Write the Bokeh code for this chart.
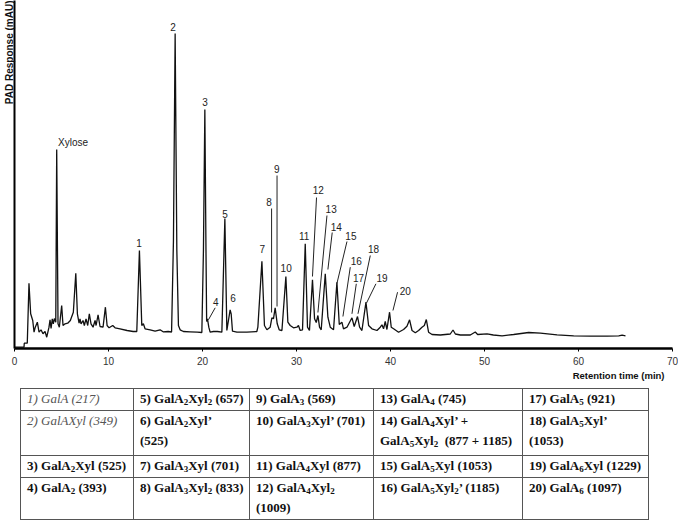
from bokeh.plotting import figure
from bokeh.models import ColumnDataSource, FixedTicker, Title, Div, Range1d
from bokeh.layouts import column
from bokeh.embed import file_html
from bokeh.resources import INLINE
from bokeh.core.properties import value

# ---------------- chromatogram trace ----------------
time_min = [0.00, 1.01, 1.04, 1.36, 1.54, 1.72, 1.94, 2.08, 2.21, 2.43,
            2.61, 2.82, 3.03, 3.25, 3.43, 3.67, 3.78, 3.89, 4.02, 4.13,
            4.24, 4.39, 4.49, 4.63, 4.77, 5.02, 5.16, 5.38, 5.66, 5.94,
            6.26, 6.52, 6.69, 6.87, 6.97, 7.08, 7.29, 7.43, 7.61, 7.79,
            7.96, 8.14, 8.36, 8.57, 8.68, 8.89, 9.10, 9.42, 9.67, 9.85,
            10.06, 10.45, 10.70, 11.23, 11.98, 12.62, 13.01, 13.29, 13.54, 13.71,
            13.89, 14.43, 14.96, 15.49, 15.81, 16.34, 16.71, 16.91, 17.09, 17.27,
            17.44, 17.62, 17.97, 18.68, 19.43, 19.93, 20.10, 20.25, 20.37, 20.44,
            20.53, 20.67, 20.81, 21.16, 21.59, 22.06, 22.38, 22.59, 22.94, 23.05,
            23.19, 23.66, 24.72, 25.78, 25.89, 26.32, 26.59, 26.85, 27.20, 27.38,
            27.55, 27.73, 27.95, 28.16, 28.45, 28.87, 29.08, 29.33, 29.68, 30.04,
            30.21, 30.39, 30.64, 30.93, 31.17, 31.38, 31.70, 31.92, 32.10, 32.28,
            32.45, 32.63, 33.06, 33.34, 33.59, 33.94, 34.30, 34.55, 34.83, 35.00,
            35.37, 35.90, 36.14, 36.49, 36.71, 36.96, 37.39, 37.67, 38.03, 38.56,
            38.91, 39.09, 39.26, 39.44, 39.62, 39.90, 40.08, 40.33, 40.86, 41.39,
            41.75, 42.03, 42.29, 42.64, 42.99, 43.35, 43.60, 43.81, 44.05, 44.42,
            45.30, 46.36, 46.65, 46.90, 47.43, 48.49, 49.02, 49.27, 50.27, 50.94,
            51.87, 53.10, 54.70, 55.95, 57.72, 59.49, 61.27, 63.05, 64.28, 64.64,
            65.00]
response = [1.3, 1.3, 5.3, 5.3, 65.3, 34.7, 28, 16.3, 21.3, 26.3,
            16.3, 18.7, 14.7, 17, 11.3, 21.3, 28.7, 20, 29.7, 24.7,
            30, 26.3, 199, 24.7, 21.3, 43, 23, 24.7, 25.3, 28,
            36.3, 75.3, 34.7, 25.3, 29.7, 24.7, 28, 23, 29.7, 23,
            34.7, 24.7, 21.3, 28, 23, 33.7, 22, 21.3, 41.3, 23,
            20.7, 23, 20.7, 19.7, 18, 17, 17, 98, 23, 24.7,
            19.7, 18.7, 17.3, 18.7, 16.7, 17, 16.5, 108, 315, 98,
            23, 18.7, 17, 16.7, 16.3, 16, 98, 239, 98, 27,
            29.7, 21.3, 16.3, 17, 17, 16.3, 130, 18, 38.7, 34.7,
            17.3, 16.3, 16.3, 17, 21.3, 87.3, 23, 18.7, 21.3, 30.7,
            29.7, 40.7, 24.7, 18.7, 18, 72, 26.3, 23, 20.7, 21.3,
            23, 18, 18.7, 104.7, 21.3, 18, 68.7, 29.7, 26, 33,
            21.3, 18.7, 74.7, 31.3, 21.3, 18.7, 66.3, 24, 26.3, 19.7,
            21.3, 30.7, 22, 32, 21.3, 18, 46.3, 23, 19.7, 18,
            21.3, 23.7, 19.7, 27, 19, 36.3, 21.3, 19.7, 16.3, 19,
            22.3, 28.7, 18, 15.7, 18, 21.3, 23, 29, 16.3, 14,
            13.5, 14.5, 18.5, 14.5, 13.5, 13.5, 16.5, 14, 14.7, 13.5,
            12.7, 14, 16, 15.3, 13.7, 12.7, 12.3, 12.3, 12.7, 13.3,
            12.7]

# ---------------- peak labels ----------------
label_text = ["1", "2", "3", "4", "5", "6", "7", "8", "9", "10",
              "11", "12", "13", "14", "15", "16", "17", "18", "19", "20"]
label_t = [13.25, 16.87, 20.28, 21.42, 22.41, 23.26, 26.35, 27.09, 27.91, 28.90,
           30.82, 32.31, 33.69, 34.23, 35.79, 36.36, 36.60, 38.20, 39.09, 41.57]
label_v = [106, 322, 247, 47, 135, 51, 100, 147, 180, 81,
           113, 159, 140, 122, 113, 88, 71, 100, 71, 58]

xylose_text = ["Xylose"]
xylose_t = [4.63]
xylose_v = [206]

# leader lines (peaks 4, 8, 9, 12-20)
leader_t0 = [21.35, 27.35, 27.93, 32.13, 33.24, 33.80, 35.37, 35.72, 36.36, 37.85, 38.45, 40.75]
leader_v0 = [40.7, 140, 173, 151, 133, 116, 107, 81.3, 64.7, 93, 64.7, 56.3]
leader_t1 = [20.63, 27.35, 27.93, 31.70, 32.28, 33.34, 34.30, 34.94, 35.90, 36.54, 37.45, 40.26]
leader_v1 = [28.7, 36, 42, 72, 36, 79, 65, 32, 34.7, 34.7, 45.5, 38]

x_ticks = [0, 10, 20, 30, 40, 50, 60, 70]

# ---------------- table of compounds ----------------
peak_numbers = [1, 2, 3, 4, 5, 6, 7, 8, 9, 10, 11, 12, 13, 14, 15, 16, 17, 18, 19, 20]
compound_names = ["GalA", "GalAXyl", "GalA<sub>2</sub>Xyl", "GalA<sub>2</sub>",
                  "GalA<sub>2</sub>Xyl<sub>2</sub>", "GalA<sub>2</sub>Xyl\u2019",
                  "GalA<sub>3</sub>Xyl", "GalA<sub>3</sub>Xyl<sub>2</sub>",
                  "GalA<sub>3</sub>", "GalA<sub>3</sub>Xyl\u2019",
                  "GalA<sub>4</sub>Xyl", "GalA<sub>4</sub>Xyl<sub>2</sub>",
                  "GalA<sub>4</sub>", "GalA<sub>4</sub>Xyl\u2019 +<br>GalA<sub>5</sub>Xyl<sub>2</sub>&nbsp;",
                  "GalA<sub>5</sub>Xyl", "GalA<sub>5</sub>Xyl<sub>2</sub>\u2019",
                  "GalA<sub>5</sub>", "GalA<sub>5</sub>Xyl\u2019",
                  "GalA<sub>6</sub>Xyl", "GalA<sub>6</sub>"]
compound_masses = ["217", "349", "525", "393", "657", "525", "701", "833", "569", "701",
                   "877", "1009", "745", "877 + 1185", "1053", "1185", "921", "1053", "1229", "1097"]
mass_on_new_line = [6, 12, 18]
italic_peaks = [1, 2]

# ---------------- figure ----------------
p = figure(width=678, height=383, output_backend="svg", toolbar_location=None,
           x_range=Range1d(0, 70), y_range=Range1d(0, 348),
           min_border_top=0, min_border_bottom=35, min_border_left=14, min_border_right=6)
p.outline_line_color = None
p.grid.visible = False
p.background_fill_color = "white"

p.line(time_min, response, line_color="#111111", line_width=1.3)

p.segment(x0=leader_t0, y0=leader_v0, x1=leader_t1, y1=leader_v1,
          line_color="#222222", line_width=1)

lab_src = ColumnDataSource(dict(t=label_t, v=label_v, s=label_text))
p.text(x="t", y="v", text="s", source=lab_src, text_align="center", text_baseline="middle",
       text_font=value("Liberation Sans"), text_font_size="10px", text_color="#222222")
p.text(x=xylose_t, y=xylose_v, text=xylose_text, text_align="left", text_baseline="middle",
       text_font=value("Liberation Sans"), text_font_size="10px", text_color="#222222")

p.xaxis.ticker = FixedTicker(ticks=x_ticks)
p.xaxis.axis_line_width = 2.5
p.xaxis.axis_line_color = "black"
p.xaxis.major_tick_out = 3
p.xaxis.major_tick_in = 0
p.xaxis.minor_tick_out = 0
p.xaxis.minor_tick_in = 0
p.xaxis.major_label_text_font = "Liberation Sans"
p.xaxis.major_label_text_font_size = "10px"
p.xaxis.major_label_text_color = "#333333"
p.xaxis.major_label_standoff = 5

p.yaxis.ticker = FixedTicker(ticks=[])
p.yaxis.axis_line_width = 2
p.yaxis.axis_line_color = "black"
p.yaxis.major_tick_out = 0
p.yaxis.minor_tick_out = 0
p.yaxis.major_label_standoff = 0
p.yaxis.major_label_text_font_size = "0px"

p.add_layout(Title(text="Retention time (min)", align="right", text_font="Liberation Sans",
                   text_font_size="9.5px", text_font_style="bold", text_color="#111111",
                   standoff=0, offset=8), "below")
p.add_layout(Title(text="PAD Response (mAU)", align="right", text_font="Liberation Sans",
                   text_font_size="10px", text_font_style="bold", text_color="#111111",
                   standoff=0, offset=0), "left")

# ---------------- table as HTML ----------------
col_widths = [113, 116, 124, 149, 126]
row_heights = [20.5, 45.5, 21.5, 41.5]

def cell_html(n):
    i = n - 1
    mass = "(" + compound_masses[i] + ")"
    sep = "<br>" if n in mass_on_new_line else " "
    txt = f"{n}) {compound_names[i]}{sep}{mass}"
    cls = "it" if n in italic_peaks else "bd"
    return f'<td class="{cls}">{txt}</td>'

rows_html = ""
for r in range(4):
    cells = "".join(cell_html(peak_numbers[c * 4 + r]) for c in range(5))
    rows_html += f'<tr style="height:{row_heights[r]}px">{cells}</tr>'
cols_html = "".join(f'<col style="width:{w}px">' for w in col_widths)

html = f"""
<style>
table.cmp {{ border-collapse: collapse; table-layout: fixed; width: {sum(col_widths)}px;
  margin-left: 15px; font-family: 'Liberation Serif', 'Times New Roman', serif; font-size: 13px; color: #111; }}
table.cmp td {{ border: 1.5px solid #555; padding: 0 4px 0 6px; vertical-align: top; line-height: 20.5px;
  white-space: nowrap; overflow: hidden; }}
table.cmp td.bd {{ font-weight: bold; }}
table.cmp td.it {{ font-style: italic; color: #555; font-weight: normal; }}
table.cmp sub {{ font-size: 9px; vertical-align: -2px; line-height: 0; }}
</style>
<table class="cmp">{cols_html}{rows_html}</table>
"""

div = Div(text=html, width=678, height=137)

layout = column(p, div, spacing=0)
open("out.html", "w").write(file_html(layout, INLINE))
